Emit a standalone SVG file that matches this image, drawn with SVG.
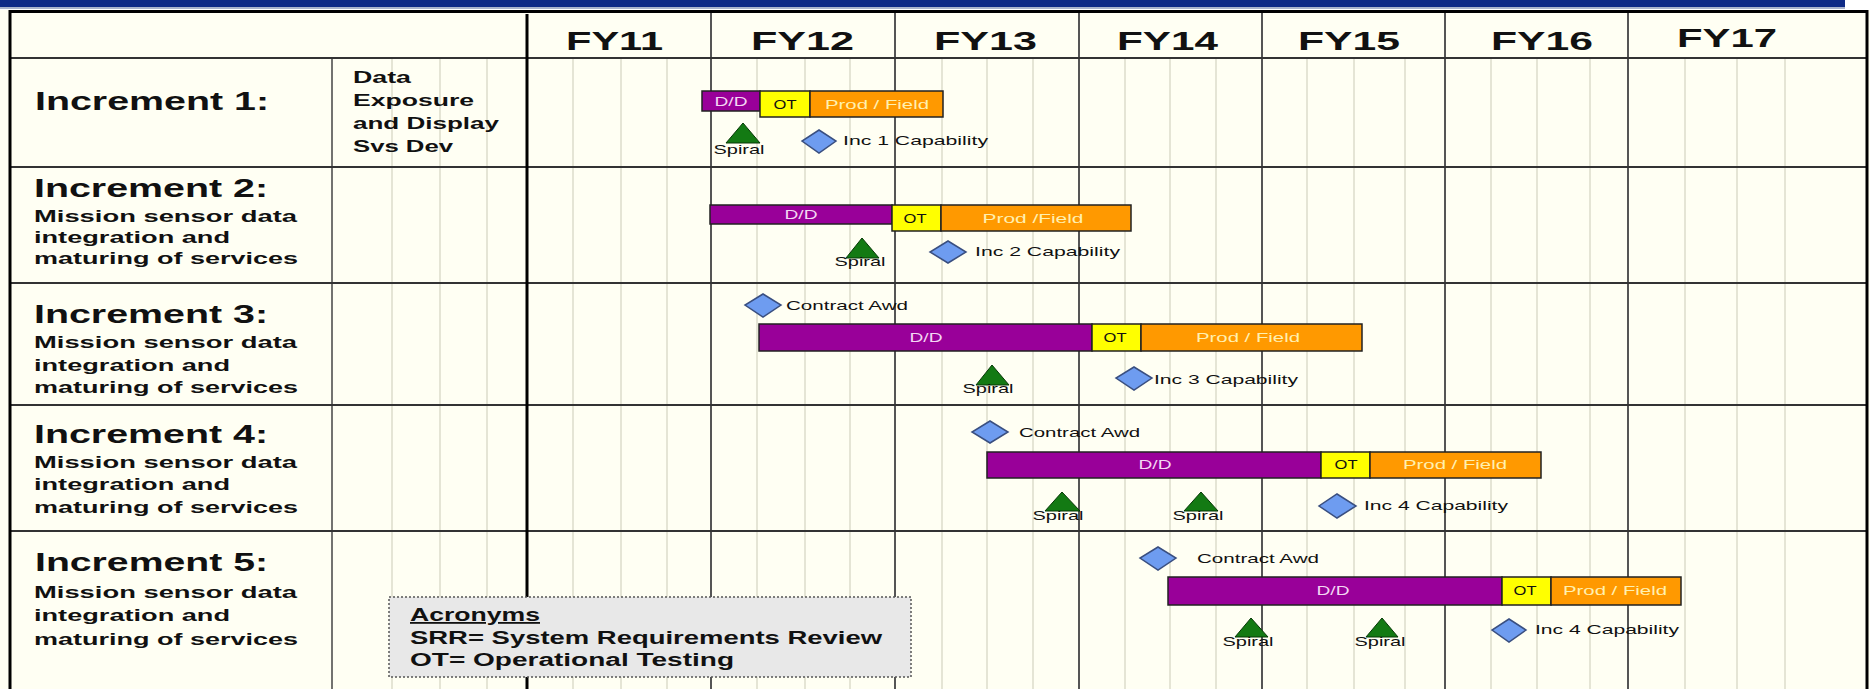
<svg xmlns="http://www.w3.org/2000/svg" width="1870" height="689" viewBox="0 0 1870 689">
<style>
.b{font-family:"Liberation Sans",Arial,sans-serif;font-weight:bold;fill:#111}
.inc{font-size:26px}
.desc{font-size:17px}
.ac{font-size:18px}
.d1{font-size:16px}
.fy{font-size:25px}
.sm{font-family:"Liberation Sans",Arial,sans-serif;font-size:13px;fill:#111}
.ddt{fill:#f3d6f3}
.pft{fill:#fff0b0}
.dd{fill:#990099;stroke:#222;stroke-width:1.5}
.ot{fill:#ffff00;stroke:#222;stroke-width:1.5}
.pf{fill:#ff9900;stroke:#222;stroke-width:1.5}
.tri{fill:#137a13;stroke:#063806;stroke-width:1}
.dia{fill:#6e9cf0;stroke:#3a4f80;stroke-width:1.5}
.minor{stroke:#dcdccb;stroke-width:1.5}
.year{stroke:#555;stroke-width:2}
.row{stroke:#333;stroke-width:2}
</style>
<rect x="0" y="0" width="1870" height="689" fill="#fffff3"/>
<rect x="0" y="0" width="1870" height="10" fill="#ffffff"/>
<rect x="0" y="0" width="1845" height="7" fill="#0e2a86"/>
<rect x="0" y="7" width="1845" height="2" fill="#aab4cc"/>
<g id="grid">
<g class="minor">
<line x1="392" y1="58" x2="392" y2="689"/><line x1="440" y1="58" x2="440" y2="689"/><line x1="487" y1="58" x2="487" y2="689"/>
<line x1="573" y1="58" x2="573" y2="689"/><line x1="621" y1="58" x2="621" y2="689"/><line x1="667" y1="58" x2="667" y2="689"/>
<line x1="757" y1="58" x2="757" y2="689"/><line x1="805" y1="58" x2="805" y2="689"/><line x1="850" y1="58" x2="850" y2="689"/>
<line x1="942" y1="58" x2="942" y2="689"/><line x1="987" y1="58" x2="987" y2="689"/><line x1="1033" y1="58" x2="1033" y2="689"/>
<line x1="1125" y1="58" x2="1125" y2="689"/><line x1="1170" y1="58" x2="1170" y2="689"/><line x1="1216" y1="58" x2="1216" y2="689"/>
<line x1="1307" y1="58" x2="1307" y2="689"/><line x1="1354" y1="58" x2="1354" y2="689"/><line x1="1405" y1="58" x2="1405" y2="689"/>
<line x1="1491" y1="58" x2="1491" y2="689"/><line x1="1537" y1="58" x2="1537" y2="689"/><line x1="1590" y1="58" x2="1590" y2="689"/>
<line x1="1685" y1="58" x2="1685" y2="689"/><line x1="1737" y1="58" x2="1737" y2="689"/><line x1="1785" y1="58" x2="1785" y2="689"/>
</g>
<g class="year">
<line x1="711" y1="13" x2="711" y2="689"/><line x1="895" y1="13" x2="895" y2="689"/><line x1="1079" y1="13" x2="1079" y2="689"/>
<line x1="1262" y1="13" x2="1262" y2="689"/><line x1="1445" y1="13" x2="1445" y2="689"/><line x1="1628" y1="13" x2="1628" y2="689"/>
</g>
<line x1="332" y1="58" x2="332" y2="689" stroke="#444" stroke-width="1.5"/>
<g class="row">
<line x1="10" y1="58" x2="1867" y2="58"/><line x1="10" y1="167" x2="1867" y2="167"/><line x1="10" y1="283" x2="1867" y2="283"/>
<line x1="10" y1="405" x2="1867" y2="405"/><line x1="10" y1="531" x2="1867" y2="531"/>
</g>
<line x1="527" y1="14" x2="527" y2="689" stroke="#000" stroke-width="3"/>
<rect x="10" y="11.5" width="1857" height="690" fill="none" stroke="#000" stroke-width="3"/>
</g>
<g id="header">
<text class="b fy" x="566" y="50" textLength="97" lengthAdjust="spacingAndGlyphs">FY11</text>
<text class="b fy" x="751" y="50" textLength="103" lengthAdjust="spacingAndGlyphs">FY12</text>
<text class="b fy" x="934" y="50" textLength="103" lengthAdjust="spacingAndGlyphs">FY13</text>
<text class="b fy" x="1117" y="50" textLength="101" lengthAdjust="spacingAndGlyphs">FY14</text>
<text class="b fy" x="1298" y="50" textLength="102" lengthAdjust="spacingAndGlyphs">FY15</text>
<text class="b fy" x="1491" y="50" textLength="102" lengthAdjust="spacingAndGlyphs">FY16</text>
<text class="b fy" x="1677" y="47" textLength="100" lengthAdjust="spacingAndGlyphs">FY17</text>
</g>
<g id="labels">
<text class="b inc" x="35" y="110" textLength="234" lengthAdjust="spacingAndGlyphs">Increment 1:</text>
<text class="b d1" x="353" y="83" textLength="58" lengthAdjust="spacingAndGlyphs">Data</text>
<text class="b d1" x="353" y="106" textLength="121" lengthAdjust="spacingAndGlyphs">Exposure</text>
<text class="b d1" x="353" y="129" textLength="146" lengthAdjust="spacingAndGlyphs">and Display</text>
<text class="b d1" x="353" y="152" textLength="100" lengthAdjust="spacingAndGlyphs">Svs Dev</text>
<text class="b inc" x="34" y="197" textLength="234" lengthAdjust="spacingAndGlyphs">Increment 2:</text>
<text class="b desc" x="34" y="222" textLength="263" lengthAdjust="spacingAndGlyphs">Mission sensor data</text>
<text class="b desc" x="34" y="243" textLength="196" lengthAdjust="spacingAndGlyphs">integration and</text>
<text class="b desc" x="34" y="264" textLength="264" lengthAdjust="spacingAndGlyphs">maturing of services</text>
<text class="b inc" x="34" y="323" textLength="234" lengthAdjust="spacingAndGlyphs">Increment 3:</text>
<text class="b desc" x="34" y="348" textLength="263" lengthAdjust="spacingAndGlyphs">Mission sensor data</text>
<text class="b desc" x="34" y="371" textLength="196" lengthAdjust="spacingAndGlyphs">integration and</text>
<text class="b desc" x="34" y="393" textLength="264" lengthAdjust="spacingAndGlyphs">maturing of services</text>
<text class="b inc" x="34" y="443" textLength="234" lengthAdjust="spacingAndGlyphs">Increment 4:</text>
<text class="b desc" x="34" y="468" textLength="263" lengthAdjust="spacingAndGlyphs">Mission sensor data</text>
<text class="b desc" x="34" y="490" textLength="196" lengthAdjust="spacingAndGlyphs">integration and</text>
<text class="b desc" x="34" y="513" textLength="264" lengthAdjust="spacingAndGlyphs">maturing of services</text>
<text class="b inc" x="35" y="571" textLength="233" lengthAdjust="spacingAndGlyphs">Increment 5:</text>
<text class="b desc" x="34" y="598" textLength="263" lengthAdjust="spacingAndGlyphs">Mission sensor data</text>
<text class="b desc" x="34" y="621" textLength="196" lengthAdjust="spacingAndGlyphs">integration and</text>
<text class="b desc" x="34" y="645" textLength="264" lengthAdjust="spacingAndGlyphs">maturing of services</text>
</g>
<g id="inc1">
<g id="inc1-dd"><rect class="dd" x="702" y="91" width="58" height="20"/><text class="sm ddt" x="731" y="106" text-anchor="middle" textLength="33" lengthAdjust="spacingAndGlyphs">D/D</text></g>
<g id="inc1-ot"><rect class="ot" x="760" y="91" width="50" height="26"/><text class="sm" x="785" y="109" text-anchor="middle" textLength="23" lengthAdjust="spacingAndGlyphs">OT</text></g>
<g id="inc1-pf"><rect class="pf" x="810" y="91" width="133" height="26"/><text class="sm pft" x="877" y="109" text-anchor="middle" textLength="104" lengthAdjust="spacingAndGlyphs">Prod / Field</text></g>
<g id="inc1-spiral"><polygon class="tri" points="743,123 760,143 726,143"/><text class="sm" x="739" y="154" text-anchor="middle" textLength="51" lengthAdjust="spacingAndGlyphs">Spiral</text></g>
<g id="inc1-cap"><polygon class="dia" points="819,130 836,141 819,153 802,141"/><text class="sm" x="843" y="145" textLength="145" lengthAdjust="spacingAndGlyphs">Inc 1  Capability</text></g>
</g>
<g id="inc2">
<g id="inc2-dd"><rect class="dd" x="710" y="205" width="182" height="19"/><text class="sm ddt" x="801" y="219" text-anchor="middle" textLength="33" lengthAdjust="spacingAndGlyphs">D/D</text></g>
<g id="inc2-ot"><rect class="ot" x="892" y="205" width="49" height="26"/><text class="sm" x="915" y="223" text-anchor="middle" textLength="23" lengthAdjust="spacingAndGlyphs">OT</text></g>
<g id="inc2-pf"><rect class="pf" x="941" y="205" width="190" height="26"/><text class="sm pft" x="1033" y="223" text-anchor="middle" textLength="101" lengthAdjust="spacingAndGlyphs">Prod /Field</text></g>
<g id="inc2-spiral"><polygon class="tri" points="862,238 879,258 846,258"/><text class="sm" x="860" y="266" text-anchor="middle" textLength="51" lengthAdjust="spacingAndGlyphs">Spiral</text></g>
<g id="inc2-cap"><polygon class="dia" points="948,241 966,252 948,263 930,252"/><text class="sm" x="975" y="256" textLength="145" lengthAdjust="spacingAndGlyphs">Inc 2  Capability</text></g>
</g>
<g id="inc3">
<g id="inc3-award"><polygon class="dia" points="763,294 781,305 763,317 745,305"/><text class="sm" x="786" y="310" textLength="122" lengthAdjust="spacingAndGlyphs">Contract Awd</text></g>
<g id="inc3-dd"><rect class="dd" x="759" y="324" width="333" height="27"/><text class="sm ddt" x="926" y="342" text-anchor="middle" textLength="33" lengthAdjust="spacingAndGlyphs">D/D</text></g>
<g id="inc3-ot"><rect class="ot" x="1092" y="324" width="49" height="27"/><text class="sm" x="1115" y="342" text-anchor="middle" textLength="23" lengthAdjust="spacingAndGlyphs">OT</text></g>
<g id="inc3-pf"><rect class="pf" x="1141" y="324" width="221" height="27"/><text class="sm pft" x="1248" y="342" text-anchor="middle" textLength="104" lengthAdjust="spacingAndGlyphs">Prod / Field</text></g>
<g id="inc3-spiral"><polygon class="tri" points="992,365 1009,385 976,385"/><text class="sm" x="988" y="393" text-anchor="middle" textLength="51" lengthAdjust="spacingAndGlyphs">Spiral</text></g>
<g id="inc3-cap"><polygon class="dia" points="1134,367 1152,378 1134,390 1116,378"/><text class="sm" x="1154" y="384" textLength="144" lengthAdjust="spacingAndGlyphs">Inc 3  Capability</text></g>
</g>
<g id="inc4">
<g id="inc4-award"><polygon class="dia" points="990,421 1008,432 990,443 972,432"/><text class="sm" x="1019" y="437" textLength="121" lengthAdjust="spacingAndGlyphs">Contract Awd</text></g>
<g id="inc4-dd"><rect class="dd" x="987" y="452" width="334" height="26"/><text class="sm ddt" x="1155" y="469" text-anchor="middle" textLength="33" lengthAdjust="spacingAndGlyphs">D/D</text></g>
<g id="inc4-ot"><rect class="ot" x="1321" y="452" width="49" height="26"/><text class="sm" x="1346" y="469" text-anchor="middle" textLength="23" lengthAdjust="spacingAndGlyphs">OT</text></g>
<g id="inc4-pf"><rect class="pf" x="1370" y="452" width="171" height="26"/><text class="sm pft" x="1455" y="469" text-anchor="middle" textLength="104" lengthAdjust="spacingAndGlyphs">Prod / Field</text></g>
<g id="inc4-spiral1"><polygon class="tri" points="1062,492 1080,511 1045,511"/><text class="sm" x="1058" y="520" text-anchor="middle" textLength="51" lengthAdjust="spacingAndGlyphs">Spiral</text></g>
<g id="inc4-spiral2"><polygon class="tri" points="1201,492 1218,511 1184,511"/><text class="sm" x="1198" y="520" text-anchor="middle" textLength="51" lengthAdjust="spacingAndGlyphs">Spiral</text></g>
<g id="inc4-cap"><polygon class="dia" points="1337,494 1356,506 1337,518 1319,506"/><text class="sm" x="1364" y="510" textLength="144" lengthAdjust="spacingAndGlyphs">Inc 4  Capability</text></g>
</g>
<g id="inc5">
<g id="inc5-award"><polygon class="dia" points="1158,547 1176,558 1158,570 1140,558"/><text class="sm" x="1197" y="563" textLength="122" lengthAdjust="spacingAndGlyphs">Contract Awd</text></g>
<g id="inc5-dd"><rect class="dd" x="1168" y="577" width="334" height="28"/><text class="sm ddt" x="1333" y="595" text-anchor="middle" textLength="33" lengthAdjust="spacingAndGlyphs">D/D</text></g>
<g id="inc5-ot"><rect class="ot" x="1502" y="577" width="49" height="28"/><text class="sm" x="1525" y="595" text-anchor="middle" textLength="23" lengthAdjust="spacingAndGlyphs">OT</text></g>
<g id="inc5-pf"><rect class="pf" x="1551" y="577" width="130" height="28"/><text class="sm pft" x="1615" y="595" text-anchor="middle" textLength="104" lengthAdjust="spacingAndGlyphs">Prod / Field</text></g>
<g id="inc5-spiral1"><polygon class="tri" points="1251,618 1268,637 1235,637"/><text class="sm" x="1248" y="646" text-anchor="middle" textLength="51" lengthAdjust="spacingAndGlyphs">Spiral</text></g>
<g id="inc5-spiral2"><polygon class="tri" points="1382,618 1398,637 1366,637"/><text class="sm" x="1380" y="646" text-anchor="middle" textLength="51" lengthAdjust="spacingAndGlyphs">Spiral</text></g>
<g id="inc5-cap"><polygon class="dia" points="1509,619 1526,630 1509,642 1492,630"/><text class="sm" x="1535" y="634" textLength="144" lengthAdjust="spacingAndGlyphs">Inc 4  Capability</text></g>
</g>
<g id="acronyms">
<rect x="389" y="597" width="522" height="80" fill="#e8e8e8" stroke="#555" stroke-width="1.5" stroke-dasharray="2,2"/>
<text class="b ac" x="410" y="621" textLength="130" lengthAdjust="spacingAndGlyphs" text-decoration="underline">Acronyms</text>
<text class="b ac" x="410" y="644" textLength="472" lengthAdjust="spacingAndGlyphs">SRR= System Requirements  Review</text>
<text class="b ac" x="410" y="666" textLength="324" lengthAdjust="spacingAndGlyphs">OT= Operational Testing</text>
</g>
<g id="connectors"/>
</svg>
